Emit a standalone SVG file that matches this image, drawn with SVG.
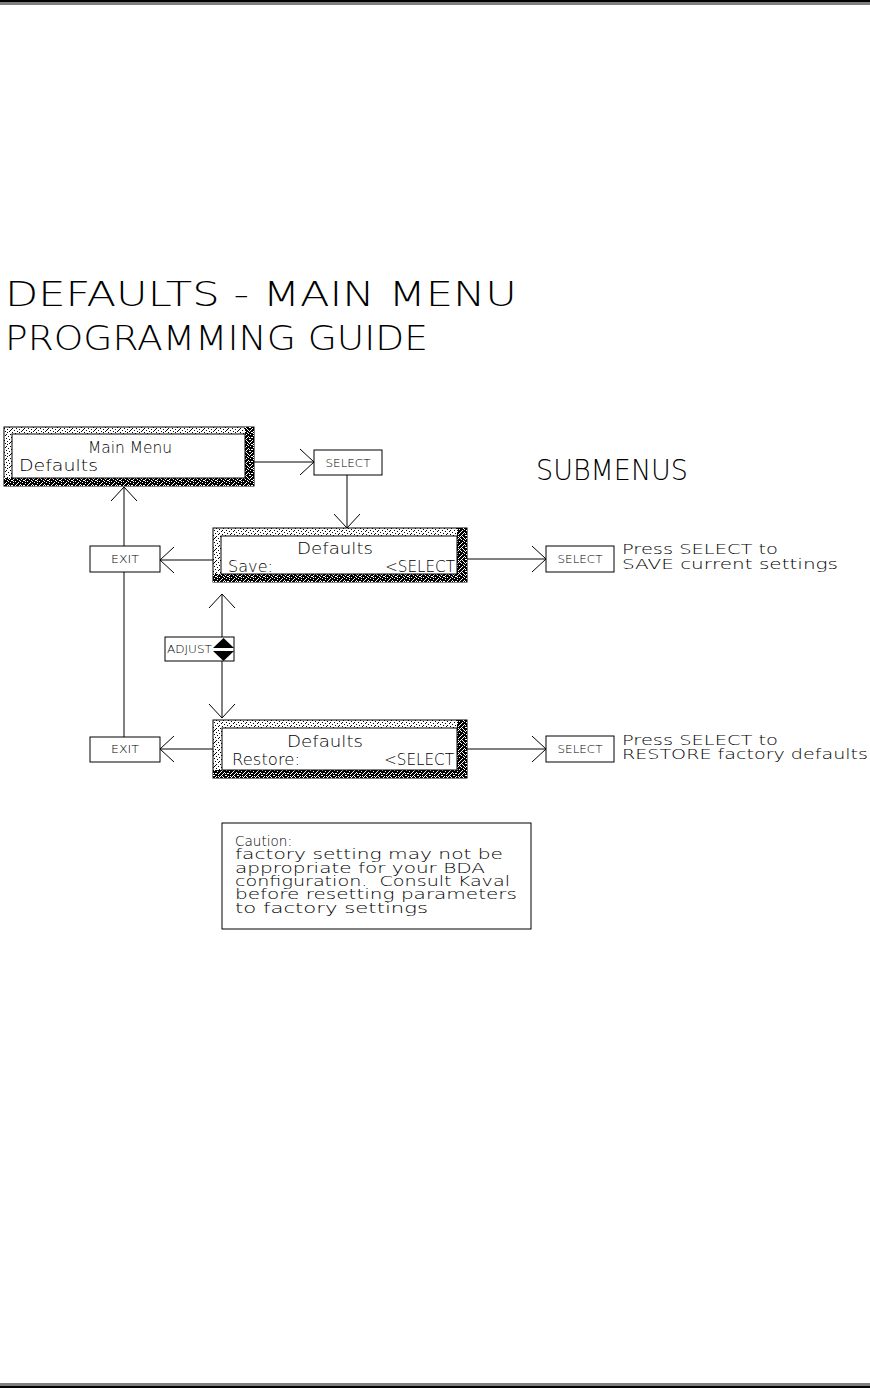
<svg xmlns="http://www.w3.org/2000/svg" width="870" height="1388" viewBox="0 0 870 1388">
<style>
.ln{stroke:#000;stroke-width:1;fill:none}
.bx{fill:#fff;stroke:#000;stroke-width:1}
.t{font-family:"DejaVu Sans","Liberation Sans",sans-serif;font-weight:200;fill:#000}
.s{font-family:"DejaVu Sans","Liberation Sans",sans-serif;font-weight:200;font-size:11px;fill:#000}
</style>
<defs>
<pattern id="lt" width="12" height="12" patternUnits="userSpaceOnUse">
<rect width="12" height="12" fill="#fff"/>
<path d="M0 0h1v1h-1zM3 1h1v1h-1zM7 0h1v1h-1zM10 2h1v1h-1zM1 3h1v1h-1zM5 3h1v1h-1zM8 4h1v1h-1zM11 5h1v1h-1zM2 6h1v1h-1zM6 6h1v1h-1zM9 7h1v1h-1zM0 8h1v1h-1zM4 8h1v1h-1zM7 9h1v1h-1zM11 9h1v1h-1zM2 10h1v1h-1zM5 11h1v1h-1zM9 11h1v1h-1zM6 2h1v1h-1zM3 5h1v1h-1zM10 10h1v1h-1z" fill="#000"/>
</pattern>
<pattern id="dk" width="12" height="12" patternUnits="userSpaceOnUse">
<rect width="12" height="12" fill="#000"/>
<path d="M0 0h1v1h-1zM3 1h1v1h-1zM7 0h1v1h-1zM10 2h1v1h-1zM1 3h1v1h-1zM5 3h1v1h-1zM8 4h1v1h-1zM11 5h1v1h-1zM2 6h1v1h-1zM6 6h1v1h-1zM9 7h1v1h-1zM0 8h1v1h-1zM4 8h1v1h-1zM7 9h1v1h-1zM11 9h1v1h-1zM2 10h1v1h-1zM5 11h1v1h-1zM9 11h1v1h-1zM1 1h1v1h-1zM6 2h1v1h-1zM3 5h1v1h-1zM10 10h1v1h-1zM8 1h1v1h-1zM4 10h1v1h-1zM9 5h1v1h-1zM0 5h1v1h-1zM6 8h1v1h-1zM2 8h1v1h-1zM4 4h1v1h-1zM10 7h1v1h-1zM7 5h1v1h-1zM1 11h1v1h-1zM3 9h1v1h-1zM11 0h1v1h-1zM5 7h1v1h-1zM8 10h1v1h-1z" fill="#fff"/>
</pattern>
<marker id="ah" markerUnits="userSpaceOnUse" markerWidth="30" markerHeight="30" viewBox="-16 -15 18 30" refX="0" refY="0" orient="auto">
<path d="M-14,-13 L0,0 L-14,13" fill="none" stroke="#000" stroke-width="1"/>
</marker>
</defs>

<g id="rules">
<rect x="0" y="0" width="870" height="2.5" fill="#000"/>
<rect x="0" y="3.5" width="870" height="1" fill="#000"/>
<rect x="0" y="1383.5" width="870" height="1" fill="#000"/>
<rect x="0" y="1385.5" width="870" height="2.5" fill="#000"/>
</g>

<g id="title">
<text class="t" x="5" y="306" font-size="34" textLength="512" lengthAdjust="spacingAndGlyphs">DEFAULTS - MAIN MENU</text>
<text class="t" x="5" y="350" font-size="34" textLength="423" lengthAdjust="spacingAndGlyphs">PROGRAMMING GUIDE</text>
<text class="t" x="536" y="480" font-size="29" textLength="152" lengthAdjust="spacingAndGlyphs">SUBMENUS</text>
</g>

<g id="connectors">
<line class="ln" x1="254" y1="462" x2="314" y2="462" marker-end="url(#ah)"/>
<line class="ln" x1="347" y1="475" x2="347" y2="528" marker-end="url(#ah)"/>
<line class="ln" x1="213" y1="560" x2="160" y2="560" marker-end="url(#ah)"/>
<line class="ln" x1="124" y1="546" x2="124" y2="487" marker-end="url(#ah)"/>
<line class="ln" x1="124" y1="572" x2="124" y2="737"/>
<line class="ln" x1="467" y1="559" x2="546" y2="559" marker-end="url(#ah)"/>
<line class="ln" x1="222" y1="637" x2="222" y2="594" marker-end="url(#ah)"/>
<line class="ln" x1="222" y1="661" x2="222" y2="718" marker-end="url(#ah)"/>
<line class="ln" x1="213" y1="749" x2="160" y2="749" marker-end="url(#ah)"/>
<line class="ln" x1="467" y1="749" x2="546" y2="749" marker-end="url(#ah)"/>
</g>

<g id="main-menu">
<rect x="4" y="427" width="250" height="59" fill="url(#lt)" stroke="#000"/>
<rect x="245" y="427" width="9" height="59" fill="url(#dk)"/>
<rect x="4" y="478" width="250" height="8" fill="url(#dk)"/>
<rect x="12" y="434" width="233" height="44" class="bx"/>
<text class="t" x="130" y="453" font-size="15" text-anchor="middle" textLength="84" lengthAdjust="spacingAndGlyphs">Main Menu</text>
<text class="t" x="19" y="471" font-size="15" textLength="79" lengthAdjust="spacingAndGlyphs">Defaults</text>
</g>

<g id="select-top">
<rect x="314" y="450" width="68" height="25" class="bx"/>
<text class="s" x="348" y="467" text-anchor="middle" textLength="45" lengthAdjust="spacingAndGlyphs">SELECT</text>
</g>

<g id="defaults-save">
<rect x="213" y="528" width="254" height="54" fill="url(#lt)" stroke="#000"/>
<rect x="457" y="528" width="10" height="54" fill="url(#dk)"/>
<rect x="213" y="574" width="254" height="8" fill="url(#dk)"/>
<rect x="221" y="536" width="236" height="38" class="bx"/>
<text class="t" x="335" y="554" font-size="15" text-anchor="middle" textLength="76" lengthAdjust="spacingAndGlyphs">Defaults</text>
<text class="t" x="228" y="572" font-size="15" textLength="45" lengthAdjust="spacingAndGlyphs">Save:</text>
<text class="t" x="385" y="572" font-size="15" textLength="70" lengthAdjust="spacingAndGlyphs">&lt;SELECT</text>
</g>

<g id="exit-top">
<rect x="90" y="546" width="70" height="26" class="bx"/>
<text class="s" x="125" y="563" text-anchor="middle" textLength="28" lengthAdjust="spacingAndGlyphs">EXIT</text>
</g>

<g id="select-save">
<rect x="546" y="546" width="68" height="26" class="bx"/>
<text class="s" x="580" y="563" text-anchor="middle" textLength="45" lengthAdjust="spacingAndGlyphs">SELECT</text>
<text class="t" x="622" y="554" font-size="14" textLength="156" lengthAdjust="spacingAndGlyphs">Press SELECT to</text>
<text class="t" x="622" y="569" font-size="14" textLength="216" lengthAdjust="spacingAndGlyphs">SAVE current settings</text>
</g>

<g id="adjust">
<rect x="165" y="637" width="69" height="24" class="bx"/>
<text class="s" x="167" y="653" textLength="45" lengthAdjust="spacingAndGlyphs">ADJUST</text>
<path d="M213 648 L223.5 638 L234 648 Z" fill="#000"/>
<path d="M213 651 L223.5 661 L234 651 Z" fill="#000"/>
</g>

<g id="defaults-restore">
<rect x="213" y="720" width="254" height="58" fill="url(#lt)" stroke="#000"/>
<rect x="457" y="720" width="10" height="58" fill="url(#dk)"/>
<rect x="213" y="770" width="254" height="8" fill="url(#dk)"/>
<rect x="222" y="728" width="235" height="42" class="bx"/>
<text class="t" x="325" y="747" font-size="15" text-anchor="middle" textLength="76" lengthAdjust="spacingAndGlyphs">Defaults</text>
<text class="t" x="232" y="765" font-size="15" textLength="68" lengthAdjust="spacingAndGlyphs">Restore:</text>
<text class="t" x="384" y="765" font-size="15" textLength="70" lengthAdjust="spacingAndGlyphs">&lt;SELECT</text>
</g>

<g id="exit-bottom">
<rect x="90" y="737" width="70" height="25" class="bx"/>
<text class="s" x="125" y="753" text-anchor="middle" textLength="28" lengthAdjust="spacingAndGlyphs">EXIT</text>
</g>

<g id="select-restore">
<rect x="546" y="736" width="68" height="26" class="bx"/>
<text class="s" x="580" y="753" text-anchor="middle" textLength="45" lengthAdjust="spacingAndGlyphs">SELECT</text>
<text class="t" x="622" y="745" font-size="14" textLength="156" lengthAdjust="spacingAndGlyphs">Press SELECT to</text>
<text class="t" x="622" y="759" font-size="14" textLength="246" lengthAdjust="spacingAndGlyphs">RESTORE factory defaults</text>
</g>

<g id="caution">
<rect x="222" y="823" width="309" height="106" class="bx"/>
<text class="t" x="235" y="846" font-size="14" textLength="57" lengthAdjust="spacingAndGlyphs">Caution:</text>
<text class="t" x="235" y="859.3" font-size="14" textLength="268" lengthAdjust="spacingAndGlyphs">factory setting may not be</text>
<text class="t" x="235" y="872.6" font-size="14" textLength="250" lengthAdjust="spacingAndGlyphs">appropriate for your BDA</text>
<text class="t" x="235" y="886" font-size="14" textLength="275" lengthAdjust="spacingAndGlyphs" xml:space="preserve">configuration.  Consult Kaval</text>
<text class="t" x="235" y="899.3" font-size="14" textLength="282" lengthAdjust="spacingAndGlyphs">before resetting parameters</text>
<text class="t" x="235" y="912.6" font-size="14" textLength="193" lengthAdjust="spacingAndGlyphs">to factory settings</text>
</g>
</svg>
